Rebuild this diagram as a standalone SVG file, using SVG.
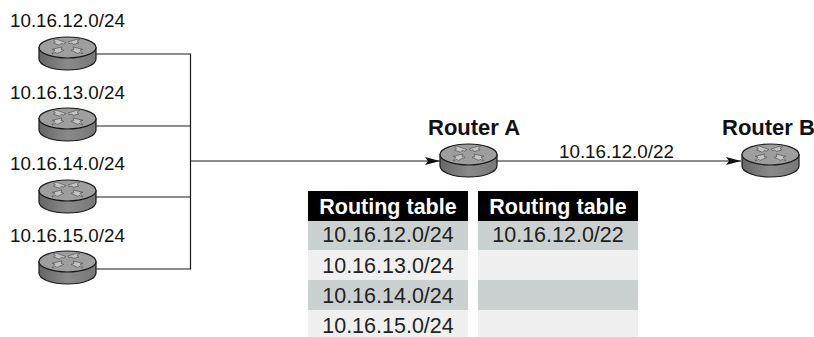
<svg xmlns="http://www.w3.org/2000/svg" xmlns:xlink="http://www.w3.org/1999/xlink" width="814" height="337" viewBox="0 0 814 337">
<style>
text{font-family:"Liberation Sans",Arial,sans-serif;fill:#111}
.l{font-size:18.8px}
.b{font-size:22px;font-weight:bold}
.h{font-size:21.500px;font-weight:bold;fill:#fff;text-anchor:middle}
.c{font-size:21.500px;text-anchor:middle;fill:#222}
.w{fill:none;stroke:#1a1a1a;stroke-width:1.2}
.d{fill:#cbd1d1}.e{fill:#f0f0f0}
</style>
<defs>
<marker id="ah" markerUnits="userSpaceOnUse" markerWidth="16" markerHeight="10" refX="15" refY="5" orient="auto" overflow="visible"><path d="M0 1L15 5L0 9L3 5Z" fill="#111"/></marker>
<linearGradient id="side" x1="0" x2="1" y1="0" y2="0"><stop offset="0" stop-color="#666"/><stop offset=".5" stop-color="#8a8a8a"/><stop offset="1" stop-color="#777"/></linearGradient>
<g id="router">
<path d="M0 10.500V22C0 28 12.500 33 28.500 33S57 28 57 22V10.500Z" fill="url(#side)" stroke="#1a1a1a" stroke-width="1.200"/>
<ellipse cx="28.500" cy="10.500" rx="28.500" ry="10.500" fill="#9e9e9e" stroke="#1a1a1a" stroke-width="1.200"/>
<path d="M17 2l10 3.500l-2.500 1.500l-2.500-.5l-1.500 1.800l-6-2.300l2-1.300l-2-1.500zM41 2l-3 2.500l2 1.500l-6 1.500l-1-1.500l-3 .5l-1-1.500l8-2.500zM13 17l3-4l-3-.7l10-2.300l-1 2.500l3 .8l-7 3.200l-1-1.200zM44 17l-3-4l3-.7l-10-2.300l1 2.500l-3 .8l7 3.200l1-1.200z" fill="#c4c4c4" stroke="#555" stroke-width=".7"/>
</g>
</defs>
<g id="connectors" class="w">
<path class="w" d="M96 54H190.500V269H96M96 126H190.500M96 197H190.500"/>
<path class="w" d="M190.500 161H440" marker-end="url(#ah)"/>
<path class="w" d="M497 161H741" marker-end="url(#ah)"/>
</g>
<g id="n1"><use xlink:href="#router" href="#router" x="39" y="37"/><text class="l" x="10" y="27">10.16.12.0/24</text></g>
<g id="n2"><use xlink:href="#router" href="#router" x="39" y="108"/><text class="l" x="10" y="99">10.16.13.0/24</text></g>
<g id="n3"><use xlink:href="#router" href="#router" x="39" y="180"/><text class="l" x="10" y="170">10.16.14.0/24</text></g>
<g id="n4"><use xlink:href="#router" href="#router" x="39" y="251"/><text class="l" x="10" y="242">10.16.15.0/24</text></g>
<g id="routerA"><use xlink:href="#router" href="#router" x="440" y="144"/><text class="b" x="428" y="135">Router A</text></g>
<g id="routerB"><use xlink:href="#router" href="#router" x="742" y="144"/><text class="b" x="722" y="135">Router B</text></g>
<text class="l" x="559" y="158">10.16.12.0/22</text>
<g id="table1">
<rect x="308" y="191" width="160" height="30" fill="#000"/>
<rect class="d" x="308" y="221" width="160" height="29"/>
<rect class="e" x="308" y="250" width="160" height="30"/>
<rect class="d" x="308" y="280" width="160" height="30"/>
<rect class="e" x="308" y="310" width="160" height="27"/>
<text class="h" x="388" y="214">Routing table</text>
<text class="c" x="388" y="242">10.16.12.0/24</text>
<text class="c" x="388" y="273">10.16.13.0/24</text>
<text class="c" x="388" y="303">10.16.14.0/24</text>
<text class="c" x="388" y="333">10.16.15.0/24</text>
</g>
<g id="table2">
<rect x="478" y="191" width="160" height="30" fill="#000"/>
<rect class="d" x="478" y="221" width="160" height="29"/>
<rect class="e" x="478" y="250" width="160" height="30"/>
<rect class="d" x="478" y="280" width="160" height="30"/>
<rect class="e" x="478" y="310" width="160" height="27"/>
<text class="h" x="558" y="214">Routing table</text>
<text class="c" x="558" y="242">10.16.12.0/22</text>
</g>
</svg>
